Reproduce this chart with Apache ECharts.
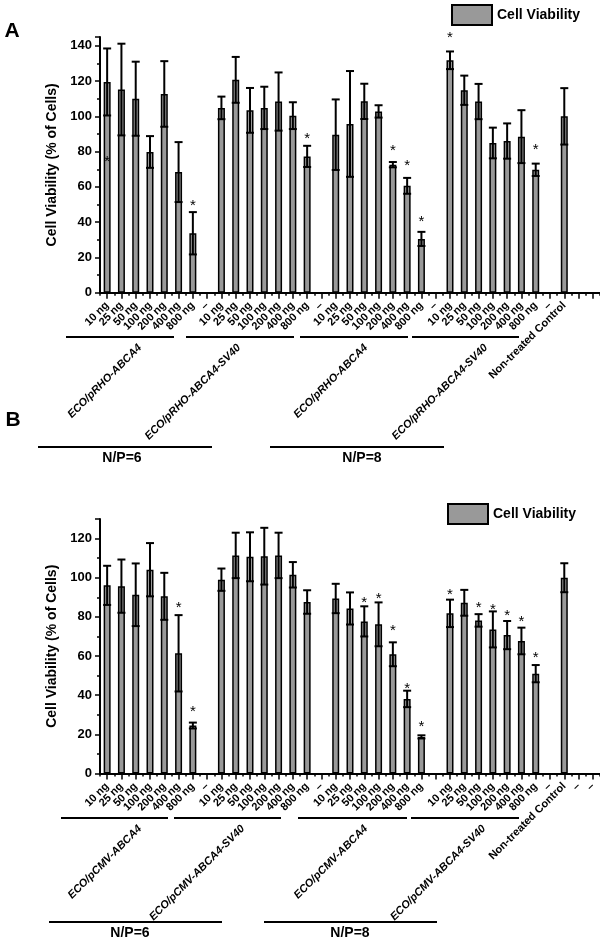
<!DOCTYPE html>
<html><head><meta charset="utf-8">
<script src="https://cdn.jsdelivr.net/npm/echarts@6/dist/echarts.min.js"></script>
<style>html,body{margin:0;padding:0;background:#fff}#c{width:600px;height:941px}</style>
</head><body><div id="c"></div>
<script>
// ---------- DATA ----------
const categoriesA = ['10 ng','25 ng','50 ng','100 ng','200 ng','400 ng','800 ng','–',
  '10 ng','25 ng','50 ng','100 ng','200 ng','400 ng','800 ng','–',
  '10 ng','25 ng','50 ng','100 ng','200 ng','400 ng','800 ng','–',
  '10 ng','25 ng','50 ng','100 ng','200 ng','400 ng','800 ng','–',
  'Non-treated Control','',''];
const categoriesB = ['10 ng','25 ng','50 ng','100 ng','200 ng','400 ng','800 ng','–',
  '10 ng','25 ng','50 ng','100 ng','200 ng','400 ng','800 ng','–',
  '10 ng','25 ng','50 ng','100 ng','200 ng','400 ng','800 ng','',
  '10 ng','25 ng','50 ng','100 ng','200 ng','400 ng','800 ng','–',
  'Non-treated Control','–','–'];
const meanA = [119.5,115.2,110,79.8,112.7,68.4,33.7,null,
  104.8,120.7,103.4,104.8,108.4,100.4,77.3,null,
  89.6,95.7,108.5,102.8,72.6,60.6,30.5,null,
  131.8,114.8,108.4,84.9,86,88.5,69.7,null,
  100,null,null];
const errA = [19,26,21,9,18.6,17,12,null,
  6.4,13,12.7,12,16.5,7.6,6,null,
  20,30,10,3.5,1.5,4.5,4,null,
  5,8.3,10,8.7,10,15,3.5,null,
  16,null,null];
const meanB = [96.1,95.7,91.3,104.1,90.5,61.4,24.5,null,
  99,111.4,110.7,111,111.4,101.5,87.6,null,
  89.4,84.3,77.7,76.2,60.9,38.1,18.7,null,
  81.8,87.2,78.2,73.6,70.7,67.7,51,null,
  100,null,null];
const errB = [10,13.6,16,13.6,12,19.5,1.5,null,
  5.7,11.6,12.5,14.5,11.6,6.5,6,null,
  7.5,8.2,7.7,11.2,6.1,4.2,0.8,null,
  7,6.6,3.2,9.2,7.2,6.8,4.4,null,
  7.4,null,null];
// asterisk positions (category index, y value of asterisk centre)
const starIdxA = [0,6,14,20,21,22,24,30];
const starYA   = [76.4,51.5,89.5,82.9,74.0,42.2,146.7,83.4];
const starIdxB = [5,6,18,19,20,21,22,24,26,27,28,29,30];
const starYB   = [86.8,33.7,89.4,91.4,74.9,45.5,26.0,93.3,86.8,85.4,82.5,79.5,61.3];
const groupLabelsA = ['ECO/pRHO-ABCA4','ECO/pRHO-ABCA4-SV40','ECO/pRHO-ABCA4','ECO/pRHO-ABCA4-SV40'];
const groupLabelsB = ['ECO/pCMV-ABCA4','ECO/pCMV-ABCA4-SV40','ECO/pCMV-ABCA4','ECO/pCMV-ABCA4-SV40'];
const npLabels = ['N/P=6','N/P=8'];
const seriesName = 'Cell Viability';
const yTitle = 'Cell Viability (% of Cells)';

// ---------- CHART ----------
const FF = '"Liberation Sans", Arial, sans-serif';
const chart = echarts.init(document.getElementById('c'), null, {renderer:'canvas'});

function errData(mean, err){
  const d=[]; mean.forEach((m,i)=>{ if(m!=null) d.push([i,m,err[i]]); }); return d;
}
function starData(idx, ys){ return idx.map((v,i)=>[v, ys[i]]); }
function errRender(params, api){
  const x=api.value(0), m=api.value(1), e=api.value(2);
  const t=api.coord([x,m+e]), b=api.coord([x,m-e]); const hw=4;
  const st={stroke:'#000',lineWidth:2};
  return {type:'group',children:[
    {type:'line',shape:{x1:t[0],y1:t[1],x2:b[0],y2:b[1]},style:st},
    {type:'line',shape:{x1:t[0]-hw,y1:t[1],x2:t[0]+hw,y2:t[1]},style:st},
    {type:'line',shape:{x1:b[0]-hw,y1:b[1],x2:b[0]+hw,y2:b[1]},style:st}
  ]};
}
function starRender(params, api){
  const p=api.coord([api.value(0), api.value(1)]);
  return {type:'text', x:p[0], y:p[1]+4, style:{text:'*', fill:'#000', font:'15px '+FF, align:'center', verticalAlign:'middle'}};
}
function xMain(grid, cats){
  return {type:'category', gridIndex:grid, data:cats, position:'bottom',
    axisLine:{show:true, lineStyle:{color:'#000', width:2}},
    axisTick:{show:true, alignWithLabel:true, interval:0, length:6, lineStyle:{color:'#000', width:1.5}},
    axisLabel:{interval:0, rotate:45, margin:11, color:'#000', fontWeight:'bold', fontSize:11, fontFamily:FF},
    splitLine:{show:false}};
}
function xMinor(grid, cats){
  return {type:'category', gridIndex:grid, data:cats, position:'bottom',
    axisLine:{show:false}, axisLabel:{show:false},
    axisTick:{show:true, interval:0, length:3, lineStyle:{color:'#000', width:1.5}},
    splitLine:{show:false}};
}
function yAx(grid, max){
  return {type:'value', gridIndex:grid, min:0, max:max, interval:20,
    name:yTitle, nameLocation:'middle', nameGap:40,
    nameTextStyle:{fontWeight:'bold', fontSize:14, color:'#000', fontFamily:FF},
    axisLine:{show:true, lineStyle:{color:'#000', width:2}},
    axisTick:{show:true, length:5, lineStyle:{color:'#000', width:1.5}},
    minorTick:{show:true, splitNumber:2, length:3, lineStyle:{color:'#000', width:1.5}},
    axisLabel:{showMaxLabel:false, margin:8, color:'#000', fontWeight:'bold', fontSize:13, fontFamily:FF},
    splitLine:{show:false}, minorSplitLine:{show:false}};
}
function legendAt(left, top){
  return {left:left, top:top, padding:0, itemWidth:40, itemHeight:20, icon:'rect', data:[seriesName],
    itemStyle:{color:'#999', borderColor:'#000', borderWidth:2},
    textStyle:{fontWeight:'bold', fontSize:14, color:'#000', fontFamily:FF}, selectedMode:false};
}
const barStyle = {color:'#999', borderColor:'#000', borderWidth:1.5};

const g = [];
function txt(t, x, y, font, rot, align){
  g.push({type:'text', x:x, y:y, rotation:rot||0, silent:true,
    style:{text:t, fill:'#000', font:font, align:align||'center', verticalAlign:'middle',
      textAlign:align||'center', textVerticalAlign:'middle'}});
}
function hline(x1,x2,y){
  g.push({type:'line', silent:true, shape:{x1:x1,y1:y,x2:x2,y2:y}, style:{stroke:'#000', lineWidth:2}});
}
const GL = 'italic bold 11px '+FF;
// panel letters
txt('A', 12, 31, 'bold 21px '+FF);
txt('B', 13, 420, 'bold 21px '+FF);
// panel A group annotations
[[66,174],[186,294],[300,408],[412,519]].forEach(s=>hline(s[0],s[1],337));
[[140,346],[239,346],[366,346],[486,346]].forEach((p,i)=>txt(groupLabelsA[i], p[0], p[1], GL, Math.PI/4, 'right'));
[[38,212],[270,444]].forEach(s=>hline(s[0],s[1],447));
txt(npLabels[0], 122, 458, 'bold 14px '+FF); txt(npLabels[1], 362, 458, 'bold 14px '+FF);
// panel B group annotations
[[61,168],[174,281],[298,407],[411,519]].forEach(s=>hline(s[0],s[1],818));
[[140,827],[243,827],[366,827],[484,827]].forEach((p,i)=>txt(groupLabelsB[i], p[0], p[1], GL, Math.PI/4, 'right'));
[[49,222],[264,437]].forEach(s=>hline(s[0],s[1],922));
txt(npLabels[0], 130, 933, 'bold 14px '+FF); txt(npLabels[1], 350, 933, 'bold 14px '+FF);

chart.setOption({
  animation:false,
  backgroundColor:'#fff',
  textStyle:{fontFamily:FF},
  grid:[{left:100, right:-5, top:37, height:255.7}, {left:100, right:-5, top:519, height:254.5}],
  legend:[legendAt(451,4), legendAt(447,503)],
  xAxis:[xMain(0,categoriesA), xMinor(0,categoriesA), xMain(1,categoriesB), xMinor(1,categoriesB)],
  yAxis:[yAx(0,145), yAx(1,130)],
  series:[
    {name:seriesName, type:'bar', xAxisIndex:0, yAxisIndex:0, data:meanA, barWidth:7, itemStyle:barStyle},
    {name:'errA', type:'custom', xAxisIndex:0, yAxisIndex:0, data:errData(meanA,errA), renderItem:errRender, z:3, clip:false},
    {name:'starsA', type:'custom', xAxisIndex:0, yAxisIndex:0, data:starData(starIdxA,starYA), renderItem:starRender, z:4, clip:false},
    {name:seriesName, type:'bar', xAxisIndex:2, yAxisIndex:1, data:meanB, barWidth:7, itemStyle:barStyle},
    {name:'errB', type:'custom', xAxisIndex:2, yAxisIndex:1, data:errData(meanB,errB), renderItem:errRender, z:3, clip:false},
    {name:'starsB', type:'custom', xAxisIndex:2, yAxisIndex:1, data:starData(starIdxB,starYB), renderItem:starRender, z:4, clip:false}
  ],
  graphic:g
});
</script></body></html>
